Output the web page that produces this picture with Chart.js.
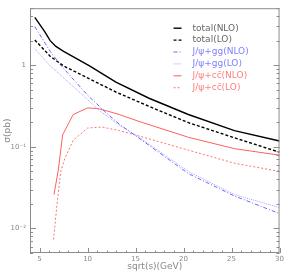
<!DOCTYPE html>
<html>
<head>
<meta charset="utf-8">
<script src="https://cdn.jsdelivr.net/npm/chart.js@4/dist/chart.umd.min.js"></script>
<style>
  html, body { margin: 0; padding: 0; background: #fff; }
</style>
</head>
<body>
<canvas id="sigma" width="286" height="274"></canvas>
<script>
// tick values / labels
const xTicks = [5, 10, 15, 20, 25, 30];
const yTicks = [0.01, 0.1, 1];
const yTickLabels = ['10⁻²', '10⁻¹', '1'];

const seriesLabels = ['total(NLO)', 'total(LO)', 'J/ψ+gg(NLO)', 'J/ψ+gg(LO)', 'J/ψ+cc̄(NLO)', 'J/ψ+cc̄(LO)'];

// sqrt(s) in GeV, sigma in pb
const totNloX = [4.5, 5.55, 6.1, 6.7, 7.5, 10.2, 12.95, 16.4, 20.5, 25.3, 30];
const totNloY = [3.86, 2.56, 2.0, 1.7, 1.48, 0.98, 0.62, 0.394, 0.249, 0.158, 0.118];

const totLoX = [4.5, 6.1, 7.5, 10.2, 12.95, 16.4, 20.5, 25.3, 30];
const totLoY = [2.04, 1.29, 0.98, 0.68, 0.47, 0.313, 0.198, 0.129, 0.086];

const ggNloX = [4.5, 6.1, 7.3, 10.0, 11.8, 13.3, 15.35, 20.5, 25.3, 30];
const ggNloY = [2.98, 1.48, 0.97, 0.43, 0.27, 0.19, 0.128, 0.047, 0.025, 0.0152];

const ggLoX = [4.5, 6.1, 7.3, 9.4, 11.2, 13.3, 15.35, 20.5, 25.3, 30];
const ggLoY = [1.59, 0.98, 0.74, 0.44, 0.28, 0.185, 0.131, 0.05, 0.026, 0.018];

const ccNloX = [6.5, 6.95, 7.4, 8.5, 10.0, 11.2, 13.3, 15.35, 20.5, 25.3, 30];
const ccNloY = [0.026, 0.052, 0.14, 0.249, 0.30, 0.293, 0.249, 0.205, 0.131, 0.095, 0.079];

const ccLoX = [6.45, 6.8, 7.2, 7.65, 8.5, 10.0, 11.5, 13.3, 15.35, 20.5, 25.3, 30];
const ccLoY = [0.0073, 0.019, 0.05, 0.073, 0.12, 0.17, 0.175, 0.158, 0.136, 0.091, 0.063, 0.05];

const legendTextColors = ['#666', '#666', '#7f7fff', '#7f7fff', '#ff7f7f', '#ff7f7f'];

function pts(xs, ys) {
    return xs.map((v, i) => ({ x: v, y: ys[i] }));
}

function series(i, xs, ys, color, width, dash) {
    return {
        label: seriesLabels[i],
        data: pts(xs, ys),
        borderColor: color,
        borderWidth: width,
        borderDash: dash,
        showLine: true,
        pointRadius: 0,
        tension: 0,
        fill: false
    };
}

// frame + inward minor/major ticks
const frameTicks = {
    id: 'frameTicks',
    afterDraw(chart) {
        const { ctx, chartArea: a, scales: { x, y } } = chart;
        ctx.save();
        ctx.strokeStyle = '#8c8c8c';
        ctx.lineWidth = 1;
        ctx.setLineDash([]);
        ctx.strokeRect(a.left + 0.5, a.top + 0.5, a.right - a.left - 1, a.bottom - a.top - 1);
        ctx.beginPath();
        for (let v = 5; v <= 30; v++) {
            const px = Math.round(x.getPixelForValue(v)) + 0.5;
            const len = v % 5 === 0 ? 5 : 2.5;
            ctx.moveTo(px, a.bottom);
            ctx.lineTo(px, a.bottom - len);
        }
        for (let d = -3; d <= 0; d++) {
            for (let m = 1; m <= 9; m++) {
                const v = m * Math.pow(10, d);
                if (v < y.min || v > y.max) continue;
                const py = Math.round(y.getPixelForValue(v)) + 0.5;
                const len = m === 1 ? 6 : 3;
                ctx.moveTo(a.left, py);
                ctx.lineTo(a.left + len, py);
                ctx.moveTo(a.right, py);
                ctx.lineTo(a.right - len, py);
            }
        }
        ctx.stroke();
        ctx.restore();
    }
};

const legendBox = {
    id: 'legendBox',
    afterDraw(chart) {
        const { ctx, chartArea: a } = chart;
        ctx.save();
        ctx.font = '9px "DejaVu Sans"';
        ctx.textBaseline = 'middle';
        chart.data.datasets.forEach((ds, i) => {
            const yy = a.top + 20 + i * 11.9;
            ctx.strokeStyle = ds.borderColor;
            ctx.lineWidth = ds.borderWidth;
            ctx.setLineDash(ds.borderDash || []);
            ctx.beginPath();
            ctx.moveTo(a.right - 106, yy);
            ctx.lineTo(a.right - 98, yy);
            ctx.stroke();
            ctx.fillStyle = legendTextColors[i];
            ctx.fillText(ds.label, a.right - 87, yy);
        });
        ctx.restore();
    }
};

new Chart(document.getElementById('sigma'), {
    type: 'scatter',
    data: {
        datasets: [
            series(0, totNloX, totNloY, '#000', 1.4, []),
            series(1, totLoX, totLoY, '#000', 1.4, [3, 2]),
            series(2, ggNloX, ggNloY, 'rgb(105,105,255)', 1, [4, 2, 1, 2]),
            series(3, ggLoX, ggLoY, 'rgb(165,165,255)', 1, [1, 1]),
            series(4, ccNloX, ccNloY, 'rgb(255,95,95)', 1, []),
            series(5, ccLoX, ccLoY, 'rgb(255,115,115)', 1, [2, 2])
        ]
    },
    options: {
        responsive: false,
        animation: false,
        devicePixelRatio: 1,
        layout: { padding: { top: 1, right: 4 } },
        plugins: {
            legend: { display: false },
            tooltip: { enabled: false }
        },
        scales: {
            x: {
                type: 'linear',
                min: 4,
                max: 30,
                afterBuildTicks: s => { s.ticks = xTicks.map(v => ({ value: v })); },
                afterFit: s => { s.height = 21; },
                grid: { display: false, drawTicks: false },
                border: { display: false },
                ticks: {
                    color: '#888',
                    font: { family: 'DejaVu Sans', size: 7 },
                    padding: 2,
                    maxRotation: 0,
                    autoSkip: false
                },
                title: {
                    display: true,
                    text: 'sqrt(s)(GeV)',
                    color: '#888',
                    font: { family: 'DejaVu Sans', size: 9 },
                    padding: { top: 0, bottom: 2 }
                }
            },
            y: {
                type: 'logarithmic',
                min: 0.005,
                max: 5,
                afterBuildTicks: s => { s.ticks = yTicks.map(v => ({ value: v })); },
                afterFit: s => { s.width = 30; },
                grid: { display: false, drawTicks: false },
                border: { display: false },
                ticks: {
                    color: '#888',
                    font: { family: 'DejaVu Sans', size: 7 },
                    padding: 4,
                    autoSkip: false,
                    callback: v => yTickLabels[yTicks.indexOf(v)]
                },
                title: {
                    display: true,
                    text: 'σ(pb)',
                    color: '#888',
                    font: { family: 'DejaVu Sans', size: 9 },
                    padding: { top: 2, bottom: 0 }
                }
            }
        }
    },
    plugins: [frameTicks, legendBox]
});
</script>
</body>
</html>
